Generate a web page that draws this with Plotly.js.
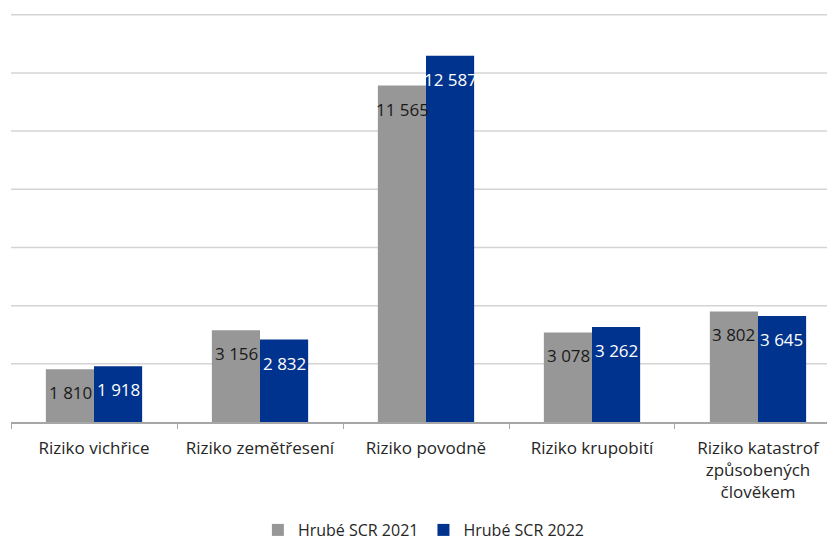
<!DOCTYPE html>
<html>
<head>
<meta charset="utf-8">
<script src="https://cdn.plot.ly/plotly-3.0.1.min.js"></script>
<style>html,body{margin:0;padding:0;background:#fff;overflow:hidden}</style>
</head>
<body>
<div id="chart" style="width:827px;height:542px"></div>
<script>
const categories = ["Riziko vichřice", "Riziko zemětřesení", "Riziko povodně", "Riziko krupobití", "Riziko katastrof<br>způsobených<br>člověkem"];
const seriesNames = ["Hrubé SCR 2021", "Hrubé SCR 2022"];
const scr2021 = [1810, 3156, 11565, 3078, 3802];
const scr2022 = [1918, 2832, 12587, 3262, 3645];
const gridVals = [2000, 4000, 6000, 8000, 10000, 12000, 14000];

const fontFam = "Open Sans, sans-serif";
const gridColor = "#d4d4d4";
function fmt(v) { return String(v).replace(/\B(?=(\d{3})+(?!\d))/g, " "); }

const traces = [
  {type: "bar", name: seriesNames[0], x: categories, y: scr2021,
   marker: {color: "#979797"}, hoverinfo: "none"},
  {type: "bar", name: seriesNames[1], x: categories, y: scr2022,
   marker: {color: "#00338D"}, hoverinfo: "none"}
];

const annotations = [];
[[scr2021, -24, "#1a1a1a"], [scr2022, 24, "#ffffff"]].forEach(function (s) {
  s[0].forEach(function (v, i) {
    annotations.push({
      x: categories[i], y: v, xref: "x", yref: "y", xshift: s[1], yshift: -10,
      yanchor: "top", xanchor: "center", showarrow: false, text: fmt(v),
      font: {family: fontFam, size: 17, color: s[2]}
    });
  });
});

// grid lines as shapes; lines above every bar are drawn on the upper layer so they show
const maxVal = Math.max.apply(null, scr2021.concat(scr2022));
const shapes = gridVals.map(function (g) {
  return {type: "line", xref: "paper", x0: 0, x1: 1, yref: "y", y0: g, y1: g,
          line: {color: gridColor, width: 1.5}, layer: g > maxVal ? "above" : "below"};
});

const layout = {
  width: 827, height: 542,
  margin: {l: 11, r: 0, t: 6.3, b: 120, autoexpand: false},
  paper_bgcolor: "#ffffff", plot_bgcolor: "#ffffff",
  barmode: "group", bargap: 0.42, bargroupgap: 0,
  font: {family: fontFam, size: 17, color: "#262626"},
  xaxis: {
    type: "category", range: [-0.5, 4.4157],
    showline: true, linecolor: "#a6a6a6", linewidth: 1.5,
    ticks: "outside", tickson: "boundaries", ticklen: 5, tickcolor: "#a6a6a6",
    ticklabelstandoff: 10, tickangle: 0,
    tickfont: {family: fontFam, size: 17, color: "#262626"},
    showgrid: false, fixedrange: true
  },
  yaxis: {
    range: [0, 14300], showticklabels: false, showgrid: false,
    zeroline: false, showline: false, fixedrange: true
  },
  showlegend: true,
  legend: {
    orientation: "h", x: 0.506, xanchor: "center", y: 12 / 542, yref: "container", yanchor: "middle",
    font: {family: fontFam, size: 16, color: "#262626"},
    itemwidth: 30, traceorder: "normal"
  },
  shapes: shapes,
  annotations: annotations
};

Plotly.newPlot("chart", traces, layout, {displayModeBar: false, staticPlot: true});
</script>
</body>
</html>
